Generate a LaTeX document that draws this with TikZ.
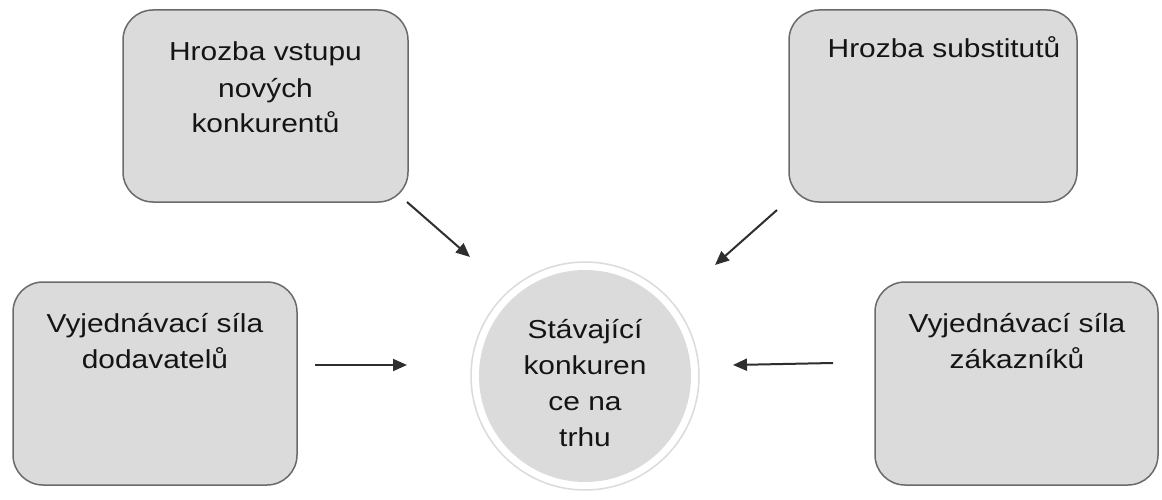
\documentclass[tikz,border=0pt]{standalone}
\usepackage{fontspec}
\setmainfont{Liberation Sans}[FakeStretch=1.15]
\usetikzlibrary{arrows.meta}
\definecolor{boxfill}{HTML}{DBDBDB}
\definecolor{boxline}{HTML}{6A6A6A}
\definecolor{ink}{HTML}{141414}
\definecolor{arrowink}{HTML}{2E2E2E}
\tikzset{
  force/.style={draw=boxline, line width=1.5pt, fill=boxfill, rounded corners=30pt,
    rectangle, inner sep=0pt},
  % base anchor of a multi-line caption sits on its last line
  caption/.style={text=ink, align=center, inner sep=0pt, anchor=base,
    font=\fontsize{26pt}{36pt}\selectfont},
  push/.style={draw=arrowink, line width=2pt,
    -{Triangle[length=14pt,width=12pt]}},
}
\begin{document}
\begin{tikzpicture}[x=1pt,y=-1pt]
  \useasboundingbox (0,0) rectangle (1162,500);
  \fill[white] (0,0) rectangle (1162,500);

  % the five forces
  \node[force, minimum width=285pt, minimum height=192pt] (entry) at (265.5,106) {};
  \node[force, minimum width=288pt, minimum height=192pt] (subst) at (933,106) {};
  \node[force, minimum width=284pt, minimum height=203pt] (suppl) at (155,383.5) {};
  \node[force, minimum width=283pt, minimum height=203pt] (buyer) at (1016.5,383.5) {};

  % central circle with its white rim
  \node[circle, draw=black!14, line width=1.5pt, fill=white, minimum size=228pt,
    inner sep=0pt] (rim) at (585,376) {};
  \node[circle, fill=boxfill, minimum size=212pt, inner sep=0pt] (market) at (rim.center) {};

  % captions
  \node[caption] (tEntry) at (265.5,133) {Hrozba vstupu\\nových\\konkurentů};
  \node[caption] (tSubst) at (944,58) {Hrozba substitutů};
  \node[caption] (tSuppl) at (155,368) {Vyjednávací síla\\dodavatelů};
  \node[caption] (tBuyer) at (1017,368) {Vyjednávací síla\\zákazníků};
  \node[caption] (tMarket) at (585,446) {Stávající\\konkuren\\ce na\\trhu};

  % arrow ends
  \coordinate (aFrom) at (407,202);
  \coordinate (aTo)   at (470,257);
  \coordinate (bFrom) at (777,210);
  \coordinate (bTo)   at (715,265);
  \coordinate (cFrom) at (315,365);
  \coordinate (cTo)   at (407,365);
  \coordinate (dFrom) at (833,363);
  \coordinate (dTo)   at (733,365);

  \draw[push] (aFrom) -- (aTo);
  \draw[push] (bFrom) -- (bTo);
  \draw[push] (cFrom) -- (cTo);
  \draw[push] (dFrom) -- (dTo);
\end{tikzpicture}
\end{document}
